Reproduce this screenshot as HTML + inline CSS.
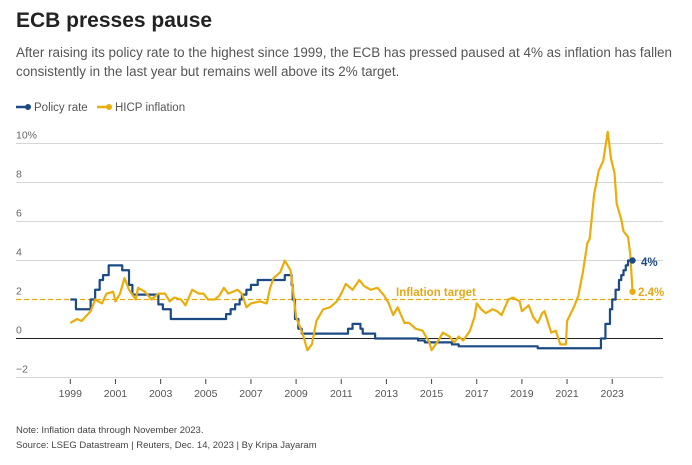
<!DOCTYPE html>
<html><head><meta charset="utf-8"><style>
body{margin:0;width:692px;height:460px;background:#fff;font-family:"Liberation Sans",sans-serif;overflow:hidden}
</style></head><body>
<svg id="s" width="692" height="460" xmlns="http://www.w3.org/2000/svg" font-family="Liberation Sans, sans-serif">
<text x="16" y="27" font-size="21" font-weight="bold" fill="#222">ECB presses pause</text>
<text x="16" y="57" font-size="13.4" fill="#555" textLength="656" lengthAdjust="spacingAndGlyphs">After raising its policy rate to the highest since 1999, the ECB has pressed paused at 4% as inflation has fallen</text>
<text x="16" y="76" font-size="13.4" fill="#555">consistently in the last year but remains well above its 2% target.</text>
<line x1="16" y1="107" x2="26" y2="107" stroke="#1c4a85" stroke-width="2.5"/><circle cx="28" cy="107" r="3" fill="#1c4a85"/>
<text x="34" y="111" font-size="11.5" fill="#555">Policy rate</text>
<line x1="97" y1="107" x2="107" y2="107" stroke="#e9ad0e" stroke-width="2.5"/><circle cx="109" cy="107" r="3" fill="#e9ad0e"/>
<text x="115" y="111" font-size="11.5" fill="#555">HICP inflation</text>
<g id="grid" stroke="#d6d6d6" stroke-width="1"></g>
<g id="g"></g>
<text x="396" y="296" font-size="11.5" font-weight="bold" fill="#e2a91c">Inflation target</text>
<text x="641" y="266" font-size="11.5" font-weight="bold" fill="#1c4a85">4%</text>
<text x="638" y="296" font-size="11.5" font-weight="bold" fill="#e2a91c">2.4%</text>
<text x="16" y="433" font-size="9.5" fill="#444">Note: Inflation data through November 2023.</text>
<text x="16" y="448" font-size="9.5" fill="#444">Source: LSEG Datastream | Reuters, Dec. 14, 2023 | By Kripa Jayaram</text>
</svg>
<script>
const X=t=>70.3+22.58*(t-1999), Y=v=>338.5-19.5*v;
const NS="http://www.w3.org/2000/svg",g=document.getElementById('g'),grid=document.getElementById('grid');
function el(n,a,p){const e=document.createElementNS(NS,n);for(const k in a)e.setAttribute(k,a[k]);(p||g).appendChild(e);return e;}
[10,8,6,4,-2].forEach(v=>{el('line',{x1:16,x2:663,y1:Y(v),y2:Y(v)},grid);el('text',{x:16,y:Y(v)-5,'font-size':10.5,fill:'#666'}).textContent=v==10?'10%':(v<0?'−2':v);});
el('text',{x:16,y:Y(2)-5,'font-size':10.5,fill:'#666'}).textContent='2';
el('text',{x:16,y:Y(0)-5,'font-size':10.5,fill:'#666'}).textContent='0';
for(let y=1999;y<=2023;y+=2){el('line',{x1:X(y),x2:X(y),y1:379,y2:384,stroke:'#444'});el('text',{x:X(y),y:397,'font-size':10.5,fill:'#555','text-anchor':'middle'}).textContent=y;}
el('line',{x1:16,x2:663,y1:Y(0),y2:Y(0),stroke:'#222','stroke-width':1});
el('line',{x1:16,x2:663,y1:Y(2),y2:Y(2),stroke:'#e6ac12','stroke-width':1.3,'stroke-dasharray':'5,3'});
const inf=[1999,0.8,1999.3,1.0,1999.5,0.9,1999.9,1.4,2000.1,2.0,2000.4,1.8,2000.6,2.3,2000.9,2.4,2001.0,1.9,2001.2,2.3,2001.4,3.1,2001.6,2.5,2001.9,2.0,2002.0,2.6,2002.3,2.4,2002.6,2.0,2002.9,2.3,2003.2,2.3,2003.4,1.9,2003.6,2.1,2003.9,2.0,2004.1,1.7,2004.4,2.5,2004.7,2.3,2004.9,2.3,2005.1,2.0,2005.4,2.0,2005.6,2.2,2005.8,2.6,2006.0,2.3,2006.2,2.4,2006.4,2.5,2006.6,2.3,2006.8,1.6,2007.0,1.8,2007.4,1.9,2007.7,1.8,2007.85,2.6,2008.0,3.1,2008.3,3.4,2008.5,4.0,2008.75,3.5,2008.9,2.1,2009.0,1.1,2009.3,0.2,2009.5,-0.6,2009.7,-0.3,2009.9,0.9,2010.2,1.5,2010.5,1.6,2010.8,1.9,2011.0,2.3,2011.2,2.8,2011.5,2.5,2011.8,3.0,2012.0,2.7,2012.3,2.5,2012.6,2.6,2012.9,2.2,2013.1,1.8,2013.3,1.2,2013.5,1.6,2013.8,0.8,2014.0,0.8,2014.3,0.5,2014.6,0.4,2014.9,-0.2,2015.0,-0.6,2015.3,-0.1,2015.5,0.3,2015.8,0.1,2016.0,-0.2,2016.2,0.1,2016.4,-0.1,2016.7,0.4,2016.9,1.1,2017.0,1.8,2017.2,1.5,2017.4,1.3,2017.7,1.5,2017.9,1.4,2018.1,1.2,2018.4,2.0,2018.6,2.1,2018.9,1.9,2019.0,1.4,2019.3,1.7,2019.5,1.1,2019.7,0.8,2019.9,1.3,2020.0,1.4,2020.3,0.3,2020.5,0.4,2020.7,-0.3,2020.95,-0.3,2021.0,0.9,2021.3,1.6,2021.5,2.2,2021.7,3.4,2021.9,4.9,2022.0,5.1,2022.2,7.4,2022.4,8.6,2022.6,9.1,2022.8,10.6,2022.95,9.2,2023.1,8.5,2023.2,6.9,2023.4,6.1,2023.5,5.5,2023.7,5.2,2023.8,4.3,2023.9,2.4];
const pol=[1999,2.0,1999.25,1.5,1999.9,2.0,2000.1,2.5,2000.3,3.0,2000.45,3.25,2000.7,3.75,2001.3,3.5,2001.6,2.75,2001.75,2.25,2002.9,1.75,2003.1,1.5,2003.45,1.0,2005.9,1.25,2006.1,1.5,2006.3,1.75,2006.5,2.0,2006.6,2.25,2006.8,2.5,2007.0,2.75,2007.3,3.0,2008.5,3.25,2008.8,2.75,2008.85,2.0,2008.95,1.0,2009.1,0.5,2009.25,0.25,2011.3,0.5,2011.5,0.75,2011.85,0.5,2011.95,0.25,2012.5,0,2014.4,-0.1,2014.7,-0.2,2015.9,-0.3,2016.2,-0.4,2019.7,-0.5,2022.5,0,2022.7,0.75,2022.9,1.5,2023.0,2.0,2023.15,2.5,2023.3,3.0,2023.4,3.25,2023.5,3.5,2023.6,3.75,2023.7,4.0,2023.9,4.0];
function path(a,step){let d='M'+X(a[0])+','+Y(a[1]);for(let i=2;i<a.length;i+=2){if(step)d+='L'+X(a[i])+','+Y(a[i-1]);d+='L'+X(a[i])+','+Y(a[i+1]);}return d;}
el('path',{d:path(pol,true),fill:'none',stroke:'#1c4a85','stroke-width':2.2,'stroke-linejoin':'round'});
el('path',{d:path(inf,false),fill:'none',stroke:'#e9ad0e','stroke-width':2.2,'stroke-linejoin':'round'});
el('circle',{cx:X(2023.9),cy:Y(4),r:3.2,fill:'#1c4a85'});
el('circle',{cx:X(2023.9),cy:Y(2.4),r:3.2,fill:'#e9ad0e'});
</script>
</body></html>
